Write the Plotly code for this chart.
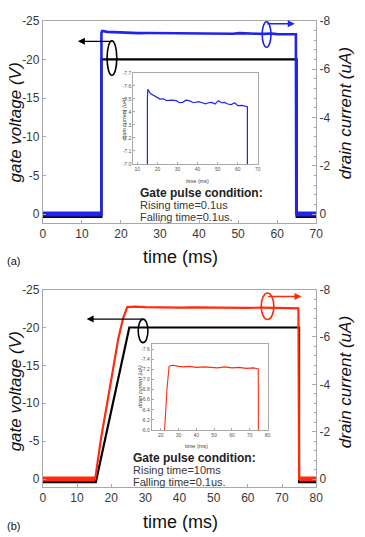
import plotly.graph_objects as go

# ---------------- data ----------------
# panel (a): gate pulse 0.1us rise / fall
t_gate_a = [0, 15, 15, 65, 65, 70]
v_gate_a = [0.35, 0.35, -20, -20, 0.35, 0.35]

t_cur_a = [0, 15, 15, 15.2, 16.5, 18.1, 19.5, 21.3, 23.0, 24.5, 27.0, 29.4, 31.0, 32.6, 34.2,
           35.8, 38.0, 40.6, 42.3, 43.9, 45.5, 47.1, 48.7, 50.3, 52.0, 53.5, 55.0, 56.8,
           58.5, 60.0, 62.0, 64.0, 64.8, 64.9, 70]
i_cur_a = [0, 0, -7.50, -7.574, -7.54, -7.524, -7.51, -7.498, -7.50, -7.486, -7.49, -7.486,
           -7.47, -7.473, -7.49, -7.486, -7.47, -7.478, -7.47, -7.461, -7.47, -7.473, -7.46,
           -7.486, -7.47, -7.473, -7.46, -7.456, -7.47, -7.448, -7.45, -7.441, -7.44, 0, 0]

# panel (b): gate pulse 10 ms rise / 0.1us fall
t_gate_b = [0, 15.5, 25.3, 75, 75, 80]
v_gate_b = [0.4, 0.4, -20, -20, 0.4, 0.4]

t_cur_b = [0, 15.3, 17.0, 18.9, 20.5, 22.1, 23.5, 24.7, 25.5, 27.0, 30, 33, 36, 40, 44, 48, 52,
           56, 60, 64, 68, 72, 74.8, 75, 80]
i_cur_b = [0, 0, -1.7, -3.36, -4.6, -5.95, -6.8, -7.26, -7.27, -7.28, -7.26, -7.25, -7.26,
           -7.24, -7.25, -7.24, -7.23, -7.25, -7.23, -7.24, -7.22, -7.23, -7.21, 0, 0]

# axis ticks
left_ticks = [-25, -20, -15, -10, -5, 0]
right_ticks = [-8, -6, -4, -2, 0]
inset_a_yticks = [-7.7, -7.6, -7.5, -7.4, -7.3, -7.2, -7.1, -7.0]
inset_b_yticks = [-7.6, -7.4, -7.2, -7.0, -6.8, -6.6, -6.4, -6.2, -6.0]

BLUE = "#2024ea"
RED = "#ff2a10"
FRAME = "#a8a8a8"
TXT = "#383838"
FONT = "Arial, Liberation Sans, sans-serif"

W, H = 365, 537


def px(x):
    return x / W


def py(y):
    return 1 - y / H


def hyph(vals, fmt="{:g}"):
    return [fmt.format(v) for v in vals]


fig = go.Figure()

# ---- panel (a) ----
fig.add_trace(go.Scatter(x=t_gate_a, y=v_gate_a, mode="lines", line=dict(color="black", width=2.2),
                         xaxis="x", yaxis="y", showlegend=False))
fig.add_trace(go.Scatter(x=t_cur_a[:2], y=i_cur_a[:2], mode="lines", line=dict(color=BLUE, width=5),
                         xaxis="x", yaxis="y2", showlegend=False))
fig.add_trace(go.Scatter(x=t_cur_a[-2:], y=i_cur_a[-2:], mode="lines", line=dict(color=BLUE, width=5),
                         xaxis="x", yaxis="y2", showlegend=False))
fig.add_trace(go.Scatter(x=t_cur_a, y=i_cur_a, mode="lines", line=dict(color=BLUE, width=2.6),
                         xaxis="x", yaxis="y2", showlegend=False))
# inset (a)
fig.add_trace(go.Scatter(x=t_cur_a, y=i_cur_a, mode="lines", line=dict(color=BLUE, width=1.2),
                         xaxis="x3", yaxis="y5", showlegend=False))

# ---- panel (b) ----
fig.add_trace(go.Scatter(x=t_gate_b, y=v_gate_b, mode="lines", line=dict(color="black", width=2.2),
                         xaxis="x2", yaxis="y3", showlegend=False))
fig.add_trace(go.Scatter(x=t_cur_b[:2], y=i_cur_b[:2], mode="lines", line=dict(color=RED, width=5),
                         xaxis="x2", yaxis="y4", showlegend=False))
fig.add_trace(go.Scatter(x=t_cur_b[-2:], y=i_cur_b[-2:], mode="lines", line=dict(color=RED, width=5),
                         xaxis="x2", yaxis="y4", showlegend=False))
fig.add_trace(go.Scatter(x=t_cur_b, y=i_cur_b, mode="lines", line=dict(color=RED, width=2.2),
                         xaxis="x2", yaxis="y4", showlegend=False))
# inset (b)
fig.add_trace(go.Scatter(x=t_cur_b, y=i_cur_b, mode="lines", line=dict(color=RED, width=1.1),
                         xaxis="x4", yaxis="y6", showlegend=False))

main_x = dict(showline=True, linecolor=FRAME, linewidth=1, mirror=True, ticks="inside",
              ticklen=3, tickcolor=FRAME, dtick=10, tick0=0, showgrid=False, zeroline=False,
              tickfont=dict(size=12, color=TXT, family=FONT))
main_y = dict(showline=True, linecolor=FRAME, linewidth=1, ticks="inside", ticklen=3,
              tickcolor=FRAME, showgrid=False, zeroline=False, tickvals=left_ticks,
              ticktext=hyph(left_ticks), tickfont=dict(size=12, color=TXT, family=FONT))
right_y = dict(showline=True, linecolor=FRAME, linewidth=1, ticks="inside", ticklen=4,
               tickcolor=FRAME, showgrid=False, zeroline=False, side="right", tickvals=right_ticks,
               ticktext=hyph(right_ticks),
               minor=dict(dtick=0.4, tick0=0, ticks="inside", ticklen=2, tickcolor=FRAME),
               tickfont=dict(size=12, color=TXT, family=FONT))
inset_x = dict(showline=True, linecolor=FRAME, linewidth=1, mirror=True, ticks="inside",
               ticklen=2, tickcolor=FRAME, showgrid=False, zeroline=False, dtick=10, tick0=0,
               tickfont=dict(size=5, color="#555", family=FONT))
inset_y = dict(showline=True, linecolor=FRAME, linewidth=1, mirror=True, ticks="inside",
               ticklen=2, tickcolor=FRAME, showgrid=False, zeroline=False,
               tickfont=dict(size=5, color="#555", family=FONT))

fig.update_layout(
    width=W, height=H, margin=dict(l=0, r=0, t=0, b=0),
    paper_bgcolor="white", plot_bgcolor="white",
    font=dict(family=FONT, color=TXT),
    xaxis=dict(main_x, domain=[px(41), px(322)], range=[0, 70], anchor="y"),
    yaxis=dict(main_y, domain=[py(220), py(14)], range=[1.14, -25], anchor="x"),
    yaxis2=dict(right_y, overlaying="y", range=[0.365, -8], anchor="x"),
    xaxis2=dict(main_x, domain=[px(41), px(322)], range=[0, 80], anchor="y3"),
    yaxis3=dict(main_y, domain=[py(489), py(288)], range=[1.04, -25], anchor="x2"),
    yaxis4=dict(right_y, overlaying="y3", range=[0.33, -8], anchor="x2"),
    xaxis3=dict(inset_x, domain=[px(134), px(262)], range=[8, 70], anchor="y5"),
    yaxis5=dict(inset_y, domain=[py(160), py(67)], range=[-7.0, -7.7], tickvals=inset_a_yticks,
                ticktext=hyph(inset_a_yticks, "{:.1f}"), anchor="x3"),
    xaxis4=dict(inset_x, domain=[px(153), px(272)], range=[15, 80], tickvals=[20, 30, 40, 50, 60, 70, 80],
                anchor="y6"),
    yaxis6=dict(inset_y, domain=[py(431), py(343)], range=[-6.0, -7.71], tickvals=inset_b_yticks,
                ticktext=hyph(inset_b_yticks, "{:.1f}"), anchor="x4"),
)

ann = []


def text(x, y, s, size, **kw):
    d = dict(x=px(x), y=py(y), xref="paper", yref="paper", text=s, showarrow=False,
             xanchor="center", yanchor="middle",
             font=dict(size=size, color=kw.pop("color", TXT), family=FONT))
    d.update(kw)
    ann.append(d)


for off, lab in [(0, "(a)"), (274, "(b)")]:
    text(13, 118 + off, "<i>gate voltage (V)</i>", 17, textangle=-90, color="#111")
    text(353, 108 + off, "<i>drain current (uA)</i>", 17, textangle=-90, color="#111")
    text(182, 255 + off - (4 if off else 0), "time (ms)", 18, color="#111")
    text(2, 259 + off - (4 if off else 0), lab, 11, xanchor="left", color="#111")

# inset labels
text(200, 177, "time (ms)", 5.5)
text(124, 114, "<i>drain current (uA)</i>", 5.5, textangle=-90)
text(199, 447, "time (ms)", 5.5)
text(141, 387, "<i>drain current (uA)</i>", 5.5, textangle=-90)

# condition text
text(139, 190, "<b>Gate pulse condition:</b>", 12, xanchor="left", color="#222")
text(139, 202, "Rising time=0.1us", 11, xanchor="left")
text(139, 214, "Falling time=0.1us.", 11, xanchor="left")
text(132, 460, "<b>Gate pulse condition:</b>", 12, xanchor="left", color="#222")
text(132, 472, "Rising time=10ms", 11, xanchor="left")
text(132, 484, "Falling time=0.1us.", 11, xanchor="left")

# arrows
for hx, hy, tx, col in [(77, 35, 112, "black"), (300, 17, 271, BLUE),
                        (86, 318, 144, "black"), (307, 295, 272, RED)]:
    ann.append(dict(x=px(hx), y=py(hy), xref="paper", yref="paper", ax=tx - hx, ay=0,
                    showarrow=True, arrowhead=2, arrowsize=1, arrowwidth=1.4, arrowcolor=col,
                    text=""))

fig.update_layout(annotations=ann)

shapes = []
for cx, cy, w, h, col in [(112, 52, 10, 35, "black"), (271, 28, 9, 26, BLUE),
                          (144, 330, 10, 24, "black"), (272, 305, 13, 27, RED)]:
    shapes.append(dict(type="circle", xref="paper", yref="paper", x0=px(cx - w / 2), x1=px(cx + w / 2),
                       y0=py(cy + h / 2), y1=py(cy - h / 2), line=dict(color=col, width=1.6)))
fig.update_layout(shapes=shapes)

fig.write_html("out.html")
